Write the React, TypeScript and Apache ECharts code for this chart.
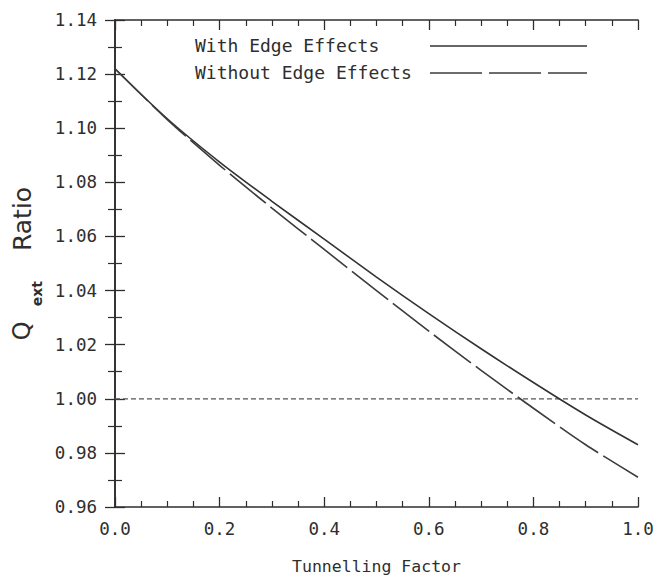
import React, { useEffect, useRef } from "react";
import * as echarts from "echarts";

const xValues = [0, 0.1, 0.2, 0.3, 0.4, 0.5, 0.6, 0.7, 0.8, 0.9, 1.0];
const withEdge = [1.122, 1.1035, 1.0875, 1.073, 1.059, 1.045, 1.0315, 1.0185, 1.006, 0.994, 0.983];
const withoutEdge = [1.122, 1.1032, 1.0863, 1.0705, 1.0552, 1.04, 1.025, 1.0105, 0.9965, 0.983, 0.971];
const referenceLevel = 1.0;
const seriesNames = ["With Edge Effects", "Without Edge Effects"];

const FONT = "DejaVu Sans";
const MONO = "DejaVu Sans Mono";
const INK = "#2e2e2e";

export default function App() {
  const ref = useRef<HTMLDivElement>(null);
  useEffect(() => {
    if (!ref.current) return;
    const chart = echarts.init(ref.current, null, { renderer: "svg" });
    const pair = (ys: number[]) => xValues.map((x, i) => [x, ys[i]]);
    const tickCommon = {
      axisLine: { show: true, lineStyle: { color: INK, width: 1.6 } },
      splitLine: { show: false },
    };
    const xBase = {
      type: "value",
      min: 0,
      max: 1,
      interval: 0.2,
      ...tickCommon,
      axisTick: { show: true, inside: true, length: 10, lineStyle: { color: INK, width: 1.3 } },
      minorTick: { show: true, splitNumber: 4, length: 6, lineStyle: { color: INK, width: 1.2 } },
    };
    const yBase = {
      type: "value",
      min: 0.96,
      max: 1.14,
      interval: 0.02,
      ...tickCommon,
      axisTick: { show: true, inside: true, length: 10, lineStyle: { color: INK, width: 1.3 } },
      minorTick: { show: true, splitNumber: 2, length: 7, lineStyle: { color: INK, width: 1.2 } },
    };
    chart.setOption({
      animation: false,
      backgroundColor: "#ffffff",
      grid: { left: 115, right: 19, top: 20, bottom: 71, containLabel: false, outerBoundsMode: "none" },
      legend: { show: false },
      xAxis: [
        {
          ...xBase,
          position: "bottom",
          axisLabel: {
            show: true,
            margin: 13,
            fontFamily: MONO,
            fontSize: 17.5,
            color: INK,
            formatter: (v: number) => v.toFixed(1),
          },
          name: "Tunnelling Factor",
          nameLocation: "middle",
          nameGap: 51,
          nameTextStyle: { fontFamily: MONO, fontSize: 16.5, color: INK },
        },
        { ...xBase, position: "top", axisLabel: { show: false } },
      ],
      yAxis: [
        {
          ...yBase,
          position: "left",
          axisLabel: {
            show: true,
            margin: 18,
            fontFamily: MONO,
            fontSize: 17.5,
            color: INK,
            formatter: (v: number) => v.toFixed(2),
          },
          name: "{q|Q}{s|ext}{r|Ratio}",
          nameLocation: "middle",
          nameRotate: 90,
          nameGap: 75,
          nameTextStyle: {
            fontFamily: FONT,
            color: INK,
            rich: {
              q: { fontFamily: FONT, fontSize: 24, lineHeight: 26, verticalAlign: "top", color: INK },
              s: {
                fontFamily: FONT,
                fontSize: 14,
                fontWeight: "bold",
                lineHeight: 14,
                padding: [20, 0, 0, 15],
                verticalAlign: "top",
                color: INK,
              },
              r: {
                fontFamily: FONT,
                fontSize: 25,
                lineHeight: 26,
                padding: [0, 0, 0, 30],
                verticalAlign: "top",
                color: INK,
              },
            },
          },
        },
        { ...yBase, position: "right", axisLabel: { show: false } },
      ],
      series: [
        {
          name: seriesNames[0],
          type: "line",
          data: pair(withEdge),
          smooth: 0.3,
          symbol: "none",
          lineStyle: { color: "#333333", width: 1.6, type: "solid" },
          z: 3,
        },
        {
          name: seriesNames[1],
          type: "line",
          data: pair(withoutEdge),
          smooth: 0.3,
          symbol: "none",
          lineStyle: { color: "#3c3c3c", width: 1.6, type: [46, 6] },
          z: 3,
        },
        {
          name: "Reference",
          type: "line",
          data: [
            [0, referenceLevel],
            [1, referenceLevel],
          ],
          symbol: "none",
          lineStyle: { color: "#555555", width: 1.2, type: [5, 3] },
          z: 2,
        },
      ],
      graphic: [
        {
          type: "text",
          left: 195,
          top: 36,
          style: { text: seriesNames[0], fontFamily: MONO, fontSize: 18, fill: INK },
        },
        {
          type: "text",
          left: 195,
          top: 63,
          style: { text: seriesNames[1], fontFamily: MONO, fontSize: 18, fill: INK },
        },
        {
          type: "line",
          shape: { x1: 430, y1: 46, x2: 587, y2: 46 },
          style: { stroke: "#333333", lineWidth: 1.6 },
        },
        {
          type: "line",
          shape: { x1: 430, y1: 73, x2: 587, y2: 73 },
          style: { stroke: "#3c3c3c", lineWidth: 1.6, lineDash: [52, 7] },
        },
      ],
    });
    return () => chart.dispose();
  }, []);
  return (
    <div
      ref={ref}
      style={{ position: "fixed", left: 0, top: 0, width: 657, height: 578, background: "#fff" }}
    />
  );
}
